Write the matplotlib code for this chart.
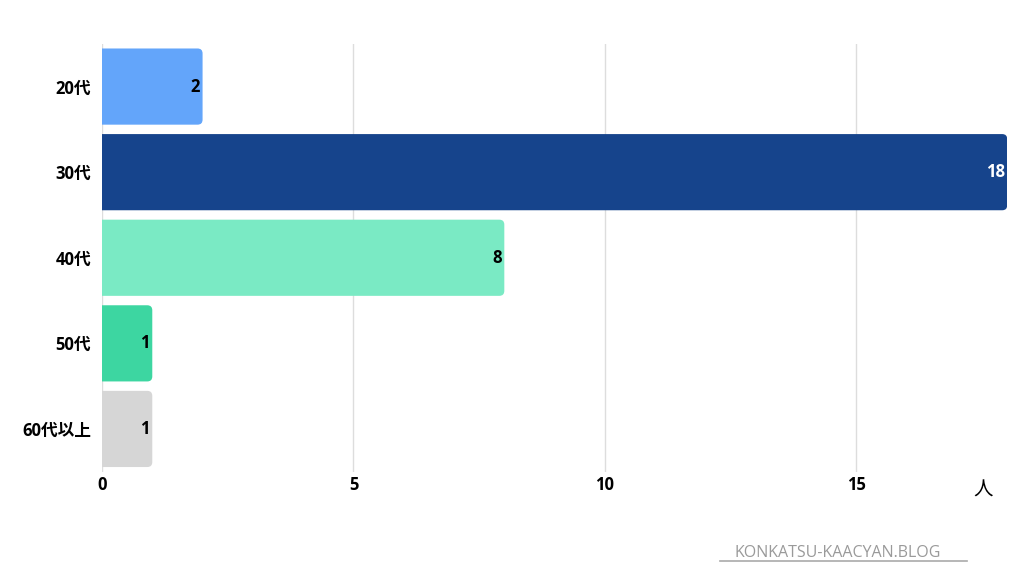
import matplotlib
matplotlib.use("Agg")
import matplotlib.pyplot as plt
from matplotlib.patches import FancyBboxPatch

plt.rcParams["font.family"] = ["Open Sans", "Noto Sans CJK JP", "DejaVu Sans"]

# data
ages = ["20代", "30代", "40代", "50代", "60代以上"]
counts = [2, 18, 8, 1, 1]
bar_colors = ["#63a5fa", "#16448c", "#7aeac4", "#3dd6a1", "#d6d6d6"]
label_colors = ["black", "white", "black", "black", "black"]
x_ticks = [0, 5, 10, 15]

fig = plt.figure(figsize=(10.24, 5.76), dpi=100)
ax = fig.add_axes([0.0996, 0.181, 0.884, 0.743])

ax.set_xlim(0, 18)
ax.set_ylim(len(ages) - 0.5, -0.5)

# rounded bars (left corners hidden behind the axis edge)
bar_h = 0.89
rounding = 0.1
for i, (v, c) in enumerate(zip(counts, bar_colors)):
    patch = FancyBboxPatch(
        (-0.5, i - bar_h / 2), v + 0.5, bar_h,
        boxstyle=f"round,pad=0,rounding_size={rounding}",
        mutation_aspect=50.2 / 85.5,
        facecolor=c, edgecolor="none", zorder=2,
    )
    ax.add_patch(patch)
    ax.text(v - 0.05, i, str(v), ha="right", va="center",
            fontsize=12, fontweight="bold", color=label_colors[i], zorder=3)

ax.set_yticks(range(len(ages)))
ax.set_yticklabels(ages, fontsize=12, fontweight="bold")
ax.set_xticks(x_ticks)
ax.set_xticklabels([str(t) for t in x_ticks], fontsize=12, fontweight="bold")
ax.tick_params(length=0)
ax.tick_params(axis="x", pad=3)
ax.tick_params(axis="y", pad=8)

ax.grid(axis="x", color="#dddddd", linewidth=1, zorder=0)
ax.set_axisbelow(True)
for s in ax.spines.values():
    s.set_visible(False)

fig.text(0.96, 0.148, "人", fontsize=14, ha="center", va="center")

fig.text(0.818, 0.04, "KONKATSU-KAACYAN.BLOG", fontsize=11.5, color="#9a9a9a",
         ha="center", va="center")
fig.add_artist(plt.Line2D([0.703, 0.944], [0.026, 0.026], color="#aaaaaa",
                          linewidth=1.2, transform=fig.transFigure))

fig.savefig("out.png", dpi=100)
